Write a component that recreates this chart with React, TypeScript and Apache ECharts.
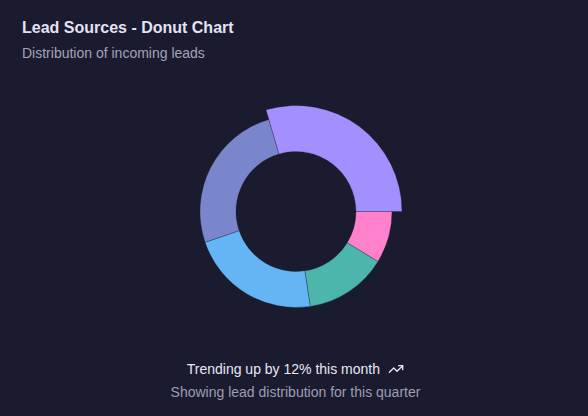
import React, { useEffect, useRef } from "react";
import * as echarts from "echarts";

const categories = ["Website", "Social Media", "Referral", "Email", "Events"];
const values = [340, 295, 255, 160, 100];
const colors = ["#a48fff", "#7986cb", "#64b5f6", "#4db6ac", "#ff80cb"];
const activeIndex = 0;

const titleText = "Lead Sources - Donut Chart";
const subtitleText = "Distribution of incoming leads";
const footerMain = "Trending up by 12% this month";
const footerSub = "Showing lead distribution for this quarter";

const BG = "#1a1b2e";
const FONT = "'Liberation Sans', Arial, Helvetica, sans-serif";

export default function App() {
  const ref = useRef<HTMLDivElement>(null);

  useEffect(() => {
    document.body.style.margin = "0";
    document.body.style.background = BG;
    if (!ref.current) return;
    const chart = echarts.init(ref.current, undefined, { renderer: "svg" });

    const data = categories.map((name, i) => ({
      name,
      value: values[i],
      itemStyle: { color: colors[i] },
    }));
    const rest = values.reduce((a, b, i) => (i === activeIndex ? a : a + b), 0);
    const activeData = [
      {
        name: categories[activeIndex],
        value: values[activeIndex],
        itemStyle: { color: colors[activeIndex] },
      },
      {
        name: "rest",
        value: rest,
        itemStyle: { color: "rgba(0,0,0,0)", borderWidth: 0 },
      },
    ];

    chart.setOption({
      animation: false,
      backgroundColor: BG,
      graphic: [
        {
          type: "text",
          left: 22,
          top: 19,
          style: {
            text: titleText,
            fill: "#e4e2f4",
            font: `bold 16px ${FONT}`,
          },
        },
        {
          type: "text",
          left: 22,
          top: 46,
          style: {
            text: subtitleText,
            fill: "#a3a3ba",
            font: `14px ${FONT}`,
          },
        },
        {
          type: "text",
          x: 380,
          y: 369,
          style: {
            text: footerMain,
            fill: "#e8e8f2",
            font: `14px ${FONT}`,
            align: "right",
            verticalAlign: "middle",
          },
        },
        {
          type: "group",
          x: 388,
          y: 361,
          scaleX: 16 / 24,
          scaleY: 16 / 24,
          children: [
            {
              type: "polyline",
              shape: { points: [[22, 7], [13.5, 15.5], [8.5, 10.5], [2, 17]] },
              style: { stroke: "#e8e8f2", lineWidth: 2, fill: "none", lineCap: "round", lineJoin: "round" },
            },
            {
              type: "polyline",
              shape: { points: [[16, 7], [22, 7], [22, 13]] },
              style: { stroke: "#e8e8f2", lineWidth: 2, fill: "none", lineCap: "round", lineJoin: "round" },
            },
          ],
        },
        {
          type: "text",
          x: 295.5,
          y: 392,
          style: {
            text: footerSub,
            fill: "#9d9db4",
            font: `14px ${FONT}`,
            align: "center",
            verticalAlign: "middle",
          },
        },
      ],
      series: [
        {
          type: "pie",
          center: [296, 211.5],
          radius: [60, 96],
          startAngle: 0,
          clockwise: false,
          label: { show: false },
          labelLine: { show: false },
          emphasis: { disabled: true },
          silent: true,
          itemStyle: { borderColor: "rgba(26,27,46,0.6)", borderWidth: 0.5 },
          data,
        },
        {
          type: "pie",
          center: [296, 211.5],
          radius: [60, 106],
          startAngle: 0,
          clockwise: false,
          label: { show: false },
          labelLine: { show: false },
          emphasis: { disabled: true },
          silent: true,
          itemStyle: { borderColor: "rgba(26,27,46,0.6)", borderWidth: 0.5 },
          data: activeData,
        },
      ],
    });

    return () => {
      chart.dispose();
    };
  }, []);

  return <div ref={ref} style={{ width: 588, height: 416 }} />;
}
